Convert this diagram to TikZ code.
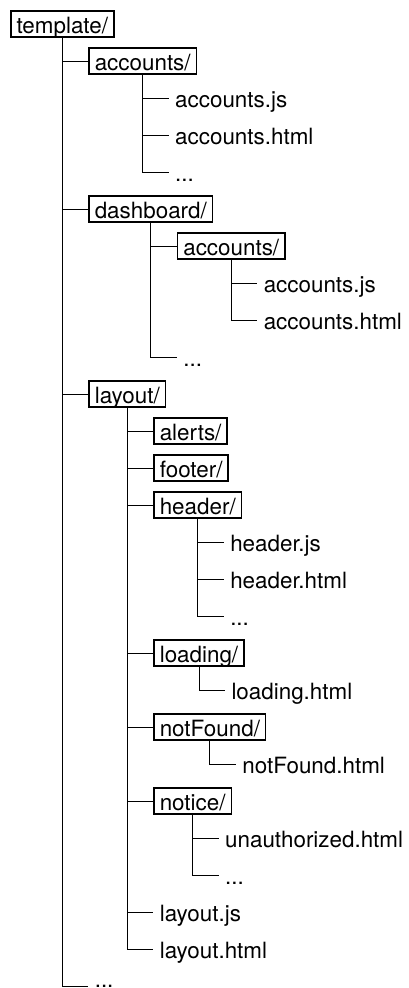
\documentclass[tikz,border=0pt]{standalone}
\usepackage{fontspec}
\setmainfont{TeX Gyre Heros}
\usetikzlibrary{calc}

\tikzset{
  entry/.style={font=\fontsize{22.4pt}{27pt}\selectfont, text height=20.2pt,
    text depth=2.2pt, inner xsep=5.75pt, inner ysep=2pt, outer sep=0.75pt,
    anchor=west},
  dirbox/.style={entry, draw, line width=1.5pt},
  filename/.style={entry},
  lastline/.style={entry, text height=13pt, text depth=9.4pt},
  link/.style={line width=1pt, black},
}

% \addentry{style}{name}{parent}{row}{text}: one line of the tree,
% hung off the parent folder with an elbow connector
\newcommand\addentry[5]{%
  \pgfmathsetmacro\entryy{-(24+37*#4)}%
  \node[#1] (#2) at ($(#3.south |- 0,\entryy pt)+(26pt,0)$) {#5};
  \draw[link] (#3.south) |- (#2.west);
}

\begin{document}
\begin{tikzpicture}
  \useasboundingbox (0,0) rectangle (408pt,-988pt);

  \node[dirbox] (template) at (10pt,-24pt) {template/};

  \addentry{dirbox}{acc}{template}{1}{accounts/}
  \addentry{filename}{accjs}{acc}{2}{accounts.js}
  \addentry{filename}{acchtml}{acc}{3}{accounts.html}
  \addentry{filename}{accdots}{acc}{4}{...}

  \addentry{dirbox}{dash}{template}{5}{dashboard/}
  \addentry{dirbox}{dashacc}{dash}{6}{accounts/}
  \addentry{filename}{dashaccjs}{dashacc}{7}{accounts.js}
  \addentry{filename}{dashacchtml}{dashacc}{8}{accounts.html}
  \addentry{filename}{dashdots}{dash}{9}{...}

  \addentry{dirbox}{layout}{template}{10}{layout/}
  \addentry{dirbox}{alerts}{layout}{11}{alerts/}
  \addentry{dirbox}{footer}{layout}{12}{footer/}
  \addentry{dirbox}{header}{layout}{13}{header/}
  \addentry{filename}{headerjs}{header}{14}{header.js}
  \addentry{filename}{headerhtml}{header}{15}{header.html}
  \addentry{filename}{headerdots}{header}{16}{...}
  \addentry{dirbox}{loading}{layout}{17}{loading/}
  \addentry{filename}{loadinghtml}{loading}{18}{loading.html}
  \addentry{dirbox}{notfound}{layout}{19}{notFound/}
  \addentry{filename}{notfoundhtml}{notfound}{20}{notFound.html}
  \addentry{dirbox}{notice}{layout}{21}{notice/}
  \addentry{filename}{unauth}{notice}{22}{unauthorized.html}
  \addentry{filename}{noticedots}{notice}{23}{...}
  \addentry{filename}{layoutjs}{layout}{24}{layout.js}
  \addentry{filename}{layouthtml}{layout}{25}{layout.html}

  \addentry{lastline}{rootdots}{template}{26}{...}
\end{tikzpicture}
\end{document}
